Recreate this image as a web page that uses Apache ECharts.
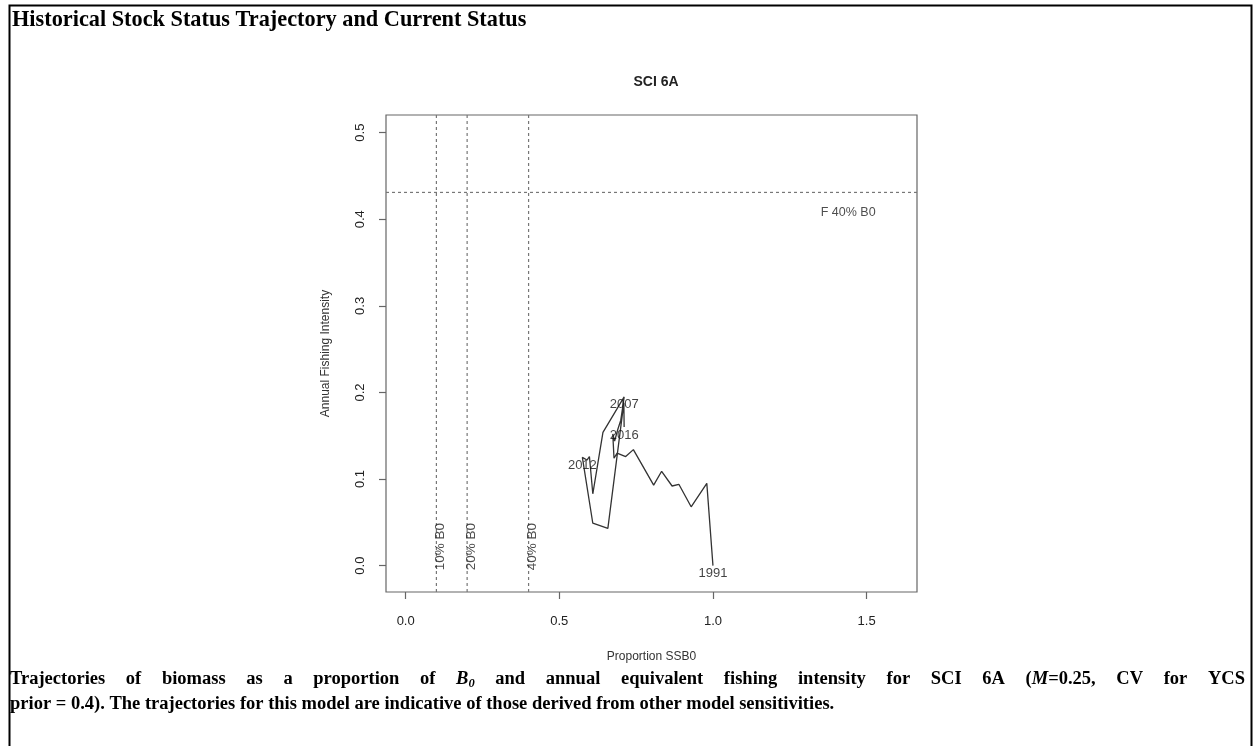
<!DOCTYPE html>
<html>
<head>
<meta charset="utf-8">
<script src="https://cdn.jsdelivr.net/npm/echarts@6/dist/echarts.min.js"></script>
<style>
html,body{margin:0;padding:0;background:#fff;}
#chart{width:1257px;height:746px;}
</style>
</head>
<body>
<div id="chart"></div>
<script>
// ---- data ----
var years = [1991,1992,1993,1994,1995,1996,1997,1998,1999,2000,2001,2002,2003,2004,2005,2006,2007,2008,2009,2010,2011,2012,2013,2014,2015,2016];
var ssb = [1.000,0.980,0.929,0.889,0.867,0.833,0.807,0.741,0.716,0.688,0.678,0.674,0.680,0.690,0.700,0.705,0.711,0.642,0.609,0.598,0.590,0.575,0.609,0.658,0.710,0.711];
var fishing = [0.000,0.095,0.068,0.094,0.092,0.109,0.093,0.134,0.126,0.130,0.124,0.152,0.144,0.157,0.168,0.180,0.195,0.154,0.083,0.126,0.122,0.125,0.049,0.043,0.188,0.160];
var labelledYears = [1991,2007,2012,2016];
var refB = [0.1,0.2,0.4];
var refBLabels = ['10% B0','20% B0','40% B0'];
var refF = 0.431;
var refFLabel = 'F 40% B0';
var xTicks = [0,0.5,1.0,1.5];
var yTicks = [0,0.1,0.2,0.3,0.4,0.5];
var headerText = 'Historical Stock Status Trajectory and Current Status';
var captionLine2 = 'prior = 0.4). The trajectories for this model are indicative of those derived from other model sensitivities.';

var xMin = -0.064, xMax = 1.664, yMin = -0.0304, yMax = 0.5204;

var traj = years.map(function(y,i){ return [ssb[i], fishing[i]]; });
var yearLabels = labelledYears.map(function(y){ var i = years.indexOf(y); return {name:String(y), value:[ssb[i], fishing[i]]}; });

var refSeries = refB.map(function(v){
  return {type:'line', data:[[v,yMin],[v,yMax]], symbol:'none', silent:true,
    lineStyle:{color:'#777', width:1.2, type:[3,3]}};
});
refSeries.push({type:'line', data:[[xMin,refF],[xMax,refF]], symbol:'none', silent:true,
    lineStyle:{color:'#777', width:1.2, type:[3,3]}});

// ---- justified caption line 1 ----
var FS = 18.5;
var fB = 'bold ' + FS + 'px "Liberation Serif"';
var fBI = 'italic bold ' + FS + 'px "Liberation Serif"';
var fSub = 'italic bold 12.5px "Liberation Serif"';
var words1 = [
  [['Trajectories',fB]],[['of',fB]],[['biomass',fB]],[['as',fB]],[['a',fB]],[['proportion',fB]],[['of',fB]],
  [['B',fBI],['0',fSub,7]],[['and',fB]],[['annual',fB]],[['equivalent',fB]],[['fishing',fB]],[['intensity',fB]],
  [['for',fB]],[['SCI',fB]],[['6A',fB]],[['(',fB],['M',fBI],['=0.25,',fB]],[['CV',fB]],[['for',fB]],[['YCS',fB]]
];
var ctx = document.createElement('canvas').getContext('2d');
function mw(t,f){ ctx.font = f; return ctx.measureText(t).width; }
var capLeft = 10, capRight = 1245, top1 = 670, top2 = 695;
var wW = words1.map(function(w){ return w.reduce(function(s,p){ return s + mw(p[0],p[1]); },0); });
var totalW = wW.reduce(function(a,b){return a+b;},0);
var gap = (capRight - capLeft - totalW) / (words1.length - 1);
var capGraphics = [];
var cx = capLeft;
words1.forEach(function(w,i){
  var px = cx;
  w.forEach(function(p){
    capGraphics.push({type:'text', x:px, y:top1 + (p[2]||0), silent:true,
      style:{text:p[0], font:p[1], fill:'#000', verticalAlign:'top', align:'left'}});
    px += mw(p[0],p[1]);
  });
  cx += wW[i] + gap;
});
capGraphics.push({type:'text', x:capLeft, y:top2, silent:true,
  style:{text:captionLine2, font:fB, fill:'#000', verticalAlign:'top', align:'left'}});

var chart = echarts.init(document.getElementById('chart'), null, {renderer:'canvas'});
var opt = {
  backgroundColor:'#fff',
  animation:false,
  title:{text:'SCI 6A', left:651, top:70, textAlign:'center',
    textStyle:{fontFamily:'Liberation Sans, Arial', fontWeight:'bold', fontSize:14, color:'#222'}},
  grid:{left:386, top:115, width:531, height:477, show:true, borderColor:'#666', borderWidth:1.2, backgroundColor:'transparent'},
  xAxis:{type:'value', min:xMin, max:xMax,
    name:'Proportion SSB0', nameLocation:'middle', nameGap:59,
    nameTextStyle:{fontFamily:'Liberation Sans, Arial', fontSize:12, color:'#333'},
    axisLine:{show:false, onZero:false}, splitLine:{show:false},
    axisTick:{show:true, inside:false, length:7, lineStyle:{color:'#666', width:1.2}, customValues:xTicks},
    axisLabel:{show:true, margin:23, fontFamily:'Liberation Sans, Arial', fontSize:13, color:'#222',
      customValues:xTicks, formatter:function(v){return v.toFixed(1);}}
  },
  yAxis:{type:'value', min:yMin, max:yMax,
    name:'Annual Fishing Intensity', nameLocation:'middle', nameGap:54, nameRotate:90,
    nameTextStyle:{fontFamily:'Liberation Sans, Arial', fontSize:12, color:'#333'},
    axisLine:{show:false, onZero:false}, splitLine:{show:false},
    axisTick:{show:true, length:7, lineStyle:{color:'#666', width:1.2}, customValues:yTicks},
    axisLabel:{show:true, rotate:90, margin:19, fontFamily:'Liberation Sans, Arial', fontSize:13, color:'#222',
      customValues:yTicks, formatter:function(v){return v.toFixed(1);}}
  },
  series: refSeries.concat([
    {type:'line', data:traj, symbol:'none', lineStyle:{color:'#333', width:1.3}, z:5},
    {type:'scatter', data:yearLabels, symbolSize:0, z:6,
      label:{show:true, position:'inside', offset:[0,8], formatter:'{b}', fontFamily:'Liberation Sans, Arial', fontSize:13, color:'#111'}},
    {type:'scatter', symbolSize:0, z:6,
      data:refB.map(function(v,i){ return {name:refBLabels[i], value:[v+0.013, 0.022]}; }),
      label:{show:true, position:'inside', rotate:90, formatter:'{b}', fontFamily:'Liberation Sans, Arial', fontSize:13.5, color:'#222'}},
    {type:'scatter', symbolSize:0, z:6,
      data:[{name:refFLabel, value:[1.44, 0.408]}],
      label:{show:true, position:'inside', formatter:'{b}', fontFamily:'Liberation Sans, Arial', fontSize:12.5, color:'#222'}}
  ]),
  graphic:[
    {type:'rect', left:7, top:3, shape:{width:1242, height:770}, style:{fill:'none', stroke:'#000', lineWidth:2}, silent:true},
    {type:'text', left:12, top:9, silent:true, style:{text:headerText,
      font:'bold 22.3px "Liberation Serif", "Times New Roman", serif', fill:'#000'}}
  ].concat(capGraphics)
};
chart.setOption(opt);
</script>
</body>
</html>
